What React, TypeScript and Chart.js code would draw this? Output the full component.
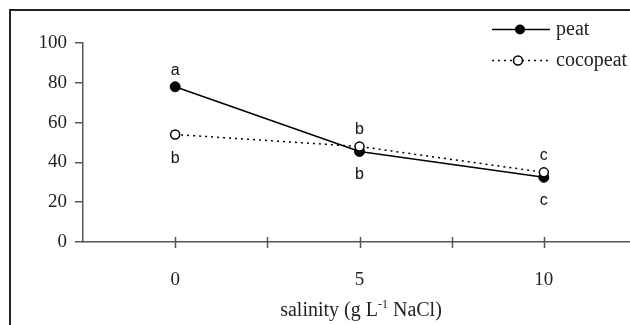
import React, { useEffect, useRef } from "react";
import { Chart, registerables } from "chart.js";

Chart.register(...registerables);

const salinity = [0, 5, 10];
const peatValues = [78, 45.5, 32.5];
const cocopeatValues = [54, 48, 35];
const peatLetters = ["a", "b", "c"];
const peatLetterSide = ["above", "below", "below"];
const cocopeatLetters = ["b", "b", "c"];
const cocopeatLetterSide = ["below", "above", "above"];
const xTickValues = [0, 2.5, 5, 7.5, 10];
const xLabelValues = [0, 5, 10];
const seriesNames = ["peat", "cocopeat"];

const SERIF = '"Liberation Serif", "Times New Roman", serif';
const SANS = '"Liberation Sans", Arial, sans-serif';
const AXIS = "#555";
const TEXT = "#222";

const extras = {
  id: "extras",
  afterDraw(chart: any) {
    const ctx = chart.ctx;
    const xs = chart.scales.x;
    const ys = chart.scales.y;
    const area = chart.chartArea;
    ctx.save();
    // frame
    ctx.strokeStyle = "#222";
    ctx.lineWidth = 2;
    ctx.beginPath();
    ctx.moveTo(10, 326);
    ctx.lineTo(10, 10);
    ctx.lineTo(640, 10);
    ctx.stroke();

    // x tick marks crossing axis
    ctx.strokeStyle = AXIS;
    ctx.lineWidth = 1.5;
    for (const v of xTickValues) {
      const px = Math.round(xs.getPixelForValue(v)) + 0.5;
      ctx.beginPath();
      ctx.moveTo(px, area.bottom - 5);
      ctx.lineTo(px, area.bottom + 6);
      ctx.stroke();
    }

    // axis title with superscript
    const main = "20px " + SERIF;
    const sup = "12px " + SERIF;
    const p1 = "salinity (g L";
    const p2 = "-1";
    const p3 = " NaCl)";
    ctx.font = main;
    const w1 = ctx.measureText(p1).width;
    const w3 = ctx.measureText(p3).width;
    ctx.font = sup;
    const w2 = ctx.measureText(p2).width;
    const total = w1 + w2 + w3;
    let tx = 361 - total / 2;
    const ty = 316;
    ctx.fillStyle = TEXT;
    ctx.textAlign = "left";
    ctx.textBaseline = "alphabetic";
    ctx.font = main;
    ctx.fillText(p1, tx, ty);
    tx += w1;
    ctx.font = sup;
    ctx.fillText(p2, tx, ty - 8);
    tx += w2;
    ctx.font = main;
    ctx.fillText(p3, tx, ty);

    // significance letters
    ctx.font = "16px " + SANS;
    ctx.textAlign = "center";
    ctx.fillStyle = "#111";
    const drawLetters = (vals: number[], letters: string[], sides: string[]) => {
      vals.forEach((v, i) => {
        const px = xs.getPixelForValue(salinity[i]);
        const py = ys.getPixelForValue(v);
        const by = sides[i] === "above" ? py - 12 : py + 28;
        ctx.fillText(letters[i], px, by);
      });
    };
    drawLetters(peatValues, peatLetters, peatLetterSide);
    drawLetters(cocopeatValues, cocopeatLetters, cocopeatLetterSide);

    // legend
    ctx.strokeStyle = "#000";
    ctx.lineWidth = 1.5;
    ctx.beginPath();
    ctx.moveTo(492, 29.5);
    ctx.lineTo(550, 29.5);
    ctx.stroke();
    ctx.fillStyle = "#000";
    ctx.beginPath();
    ctx.arc(520, 29.5, 5, 0, Math.PI * 2);
    ctx.fill();

    ctx.setLineDash([2, 4]);
    ctx.beginPath();
    ctx.moveTo(492, 60.5);
    ctx.lineTo(550, 60.5);
    ctx.stroke();
    ctx.setLineDash([]);
    ctx.fillStyle = "#fff";
    ctx.beginPath();
    ctx.arc(518, 60.5, 4.5, 0, Math.PI * 2);
    ctx.fill();
    ctx.stroke();

    ctx.font = "20px " + SERIF;
    ctx.fillStyle = TEXT;
    ctx.textAlign = "left";
    ctx.fillText(seriesNames[0], 556, 35);
    ctx.fillText(seriesNames[1], 556, 66);
    ctx.restore();
  },
};

export default function App() {
  const ref = useRef<HTMLCanvasElement>(null);
  useEffect(() => {
    if (!ref.current) return;
    const chart = new Chart(ref.current, {
      type: "line",
      data: {
        datasets: [
          {
            label: seriesNames[0],
            data: salinity.map((x, i) => ({ x, y: peatValues[i] })),
            borderColor: "#000",
            borderWidth: 1.5,
            pointRadius: 5,
            pointBackgroundColor: "#000",
            pointBorderColor: "#000",
            pointBorderWidth: 1,
            order: 2,
          },
          {
            label: seriesNames[1],
            data: salinity.map((x, i) => ({ x, y: cocopeatValues[i] })),
            borderColor: "#000",
            borderWidth: 1.5,
            borderDash: [2, 4],
            pointRadius: 4.5,
            pointBackgroundColor: "#fff",
            pointBorderColor: "#000",
            pointBorderWidth: 1.5,
            order: 1,
          },
        ],
      },
      options: {
        animation: false,
        responsive: false,
        devicePixelRatio: 1,
        layout: { padding: { top: 43, left: 0, right: 0, bottom: 0 } },
        plugins: { legend: { display: false }, tooltip: { enabled: false } },
        scales: {
          x: {
            type: "linear",
            bounds: "data",
            min: -2.5,
            max: 12.5,
            afterBuildTicks: (s: any) => {
              s.ticks = xTickValues.map((v) => ({ value: v }));
            },
            afterFit: (s: any) => {
              s.height = 83;
            },
            grid: { display: false },
            border: { display: true, color: AXIS, width: 1.5 },
            ticks: {
              autoSkip: false,
              maxRotation: 0,
              padding: 19,
              color: TEXT,
              font: { family: SERIF, size: 19 },
              callback: (v: any) => (xLabelValues.includes(Number(v)) ? String(v) : ""),
            },
          },
          y: {
            min: 0,
            max: 100,
            afterFit: (s: any) => {
              s.width = 83;
            },
            grid: { drawOnChartArea: false, tickLength: 8, color: AXIS, lineWidth: 1.5 },
            border: { display: true, color: AXIS, width: 1.5 },
            ticks: {
              stepSize: 20,
              padding: 8,
              color: TEXT,
              font: { family: SERIF, size: 19 },
            },
          },
        },
      },
      plugins: [extras],
    });
    return () => chart.destroy();
  }, []);
  return (
    <div
      style={{
        position: "absolute",
        left: 0,
        top: 0,
        width: 630,
        height: 325,
        overflow: "hidden",
        background: "#fff",
      }}
    >
      <canvas ref={ref} width={642} height={325} style={{ display: "block", width: 642, height: 325 }} />
    </div>
  );
}
